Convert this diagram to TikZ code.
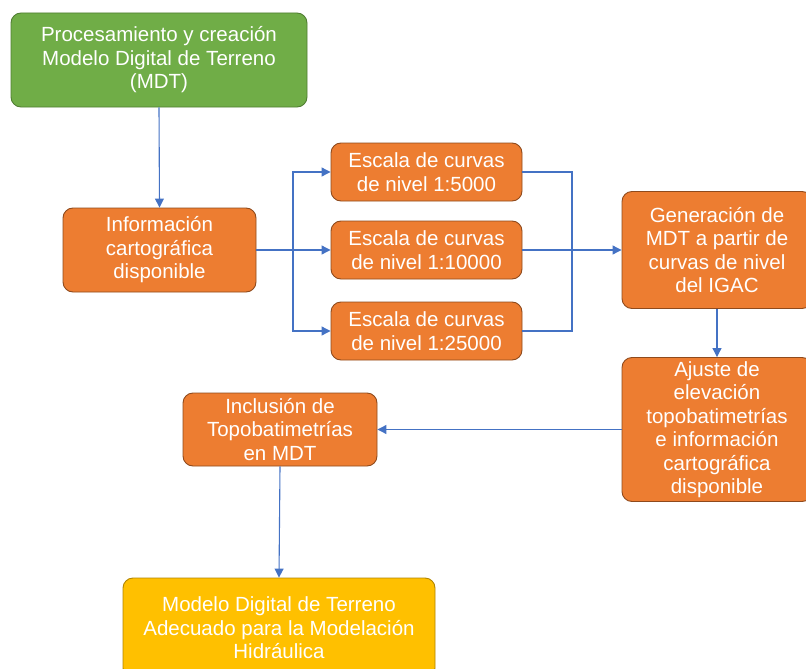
\documentclass[tikz,border=0pt]{standalone}
\usepackage{fontspec}
\setmainfont{Liberation Sans}
\usetikzlibrary{arrows.meta}
\definecolor{gfill}{HTML}{70AD47}
\definecolor{gdraw}{HTML}{507E32}
\definecolor{ofill}{HTML}{ED7D31}
\definecolor{odraw}{HTML}{8F4A1C}
\definecolor{yfill}{HTML}{FFC000}
\definecolor{ydraw}{HTML}{B08400}
\definecolor{arr}{HTML}{4472C4}
\tikzset{
  box/.style={draw, line width=0.9pt, rounded corners=10pt, inner sep=0pt, align=center,
    text=white, font=\fontsize{20.5}{23.5}\selectfont},
  gbox/.style={box, fill=gfill, draw=gdraw},
  obox/.style={box, fill=ofill, draw=odraw},
  ybox/.style={box, fill=yfill, draw=ydraw},
  link/.style={draw=arr, line width=1.1pt},
  arrow/.style={link, -{Triangle[length=9pt,width=9pt]}}
}
\begin{document}
\begin{tikzpicture}[x=1pt,y=-1pt]
\useasboundingbox (0,0) rectangle (806,669);
\clip (0,0) rectangle (806,669);
\node[gbox, minimum width=296pt, minimum height=94pt] (g) at (159,60)
  {Procesamiento y creación\\Modelo Digital de Terreno\\(MDT)};
\node[obox, minimum width=193pt, minimum height=84pt] (info) at (159.5,250)
  {Información\\cartográfica\\disponible};
\node[obox, minimum width=191pt, minimum height=58pt] (sA) at (426.5,172)
  {Escala de curvas\\de nivel 1:5000};
\node[obox, minimum width=191pt, minimum height=58pt] (sB) at (426.5,250)
  {Escala de curvas\\de nivel 1:10000};
\node[obox, minimum width=191pt, minimum height=58pt] (sC) at (426.5,331)
  {Escala de curvas\\de nivel 1:25000};
\node[obox, minimum width=190pt, minimum height=117pt] (gen) at (717,250)
  {Generación de\\MDT a partir de\\curvas de nivel\\del IGAC};
\node[obox, minimum width=190pt, minimum height=144pt] (aj) at (717,429.5)
  {Ajuste de\\elevación\\topobatimetrías\\e información\\cartográfica\\disponible};
\node[obox, minimum width=194pt, minimum height=73pt] (inc) at (280,429.5)
  {Inclusión de\\Topobatimetrías\\en MDT};
\node[ybox, minimum width=312pt, minimum height=100pt] (yel) at (279,628)
  {Modelo Digital de Terreno\\Adecuado para la Modelación\\Hidráulica};
\coordinate (bl) at (293,250);
\coordinate (br) at (572,250);
\draw[arrow] (g.south) -- (info.north);
\draw[arrow] (info.east) -- (sB.west);
\draw[arrow] (bl) |- (sA.west);
\draw[arrow] (bl) |- (sC.west);
\draw[link] (sA.east) -| (br);
\draw[link] (sC.east) -| (br);
\draw[arrow] (sB.east) -- (gen.west);
\draw[arrow] (gen.south) -- (aj.north);
\draw[arrow] (aj.west) -- (inc.east);
\draw[arrow] (inc.south) -- (yel.north);
\end{tikzpicture}
\end{document}
